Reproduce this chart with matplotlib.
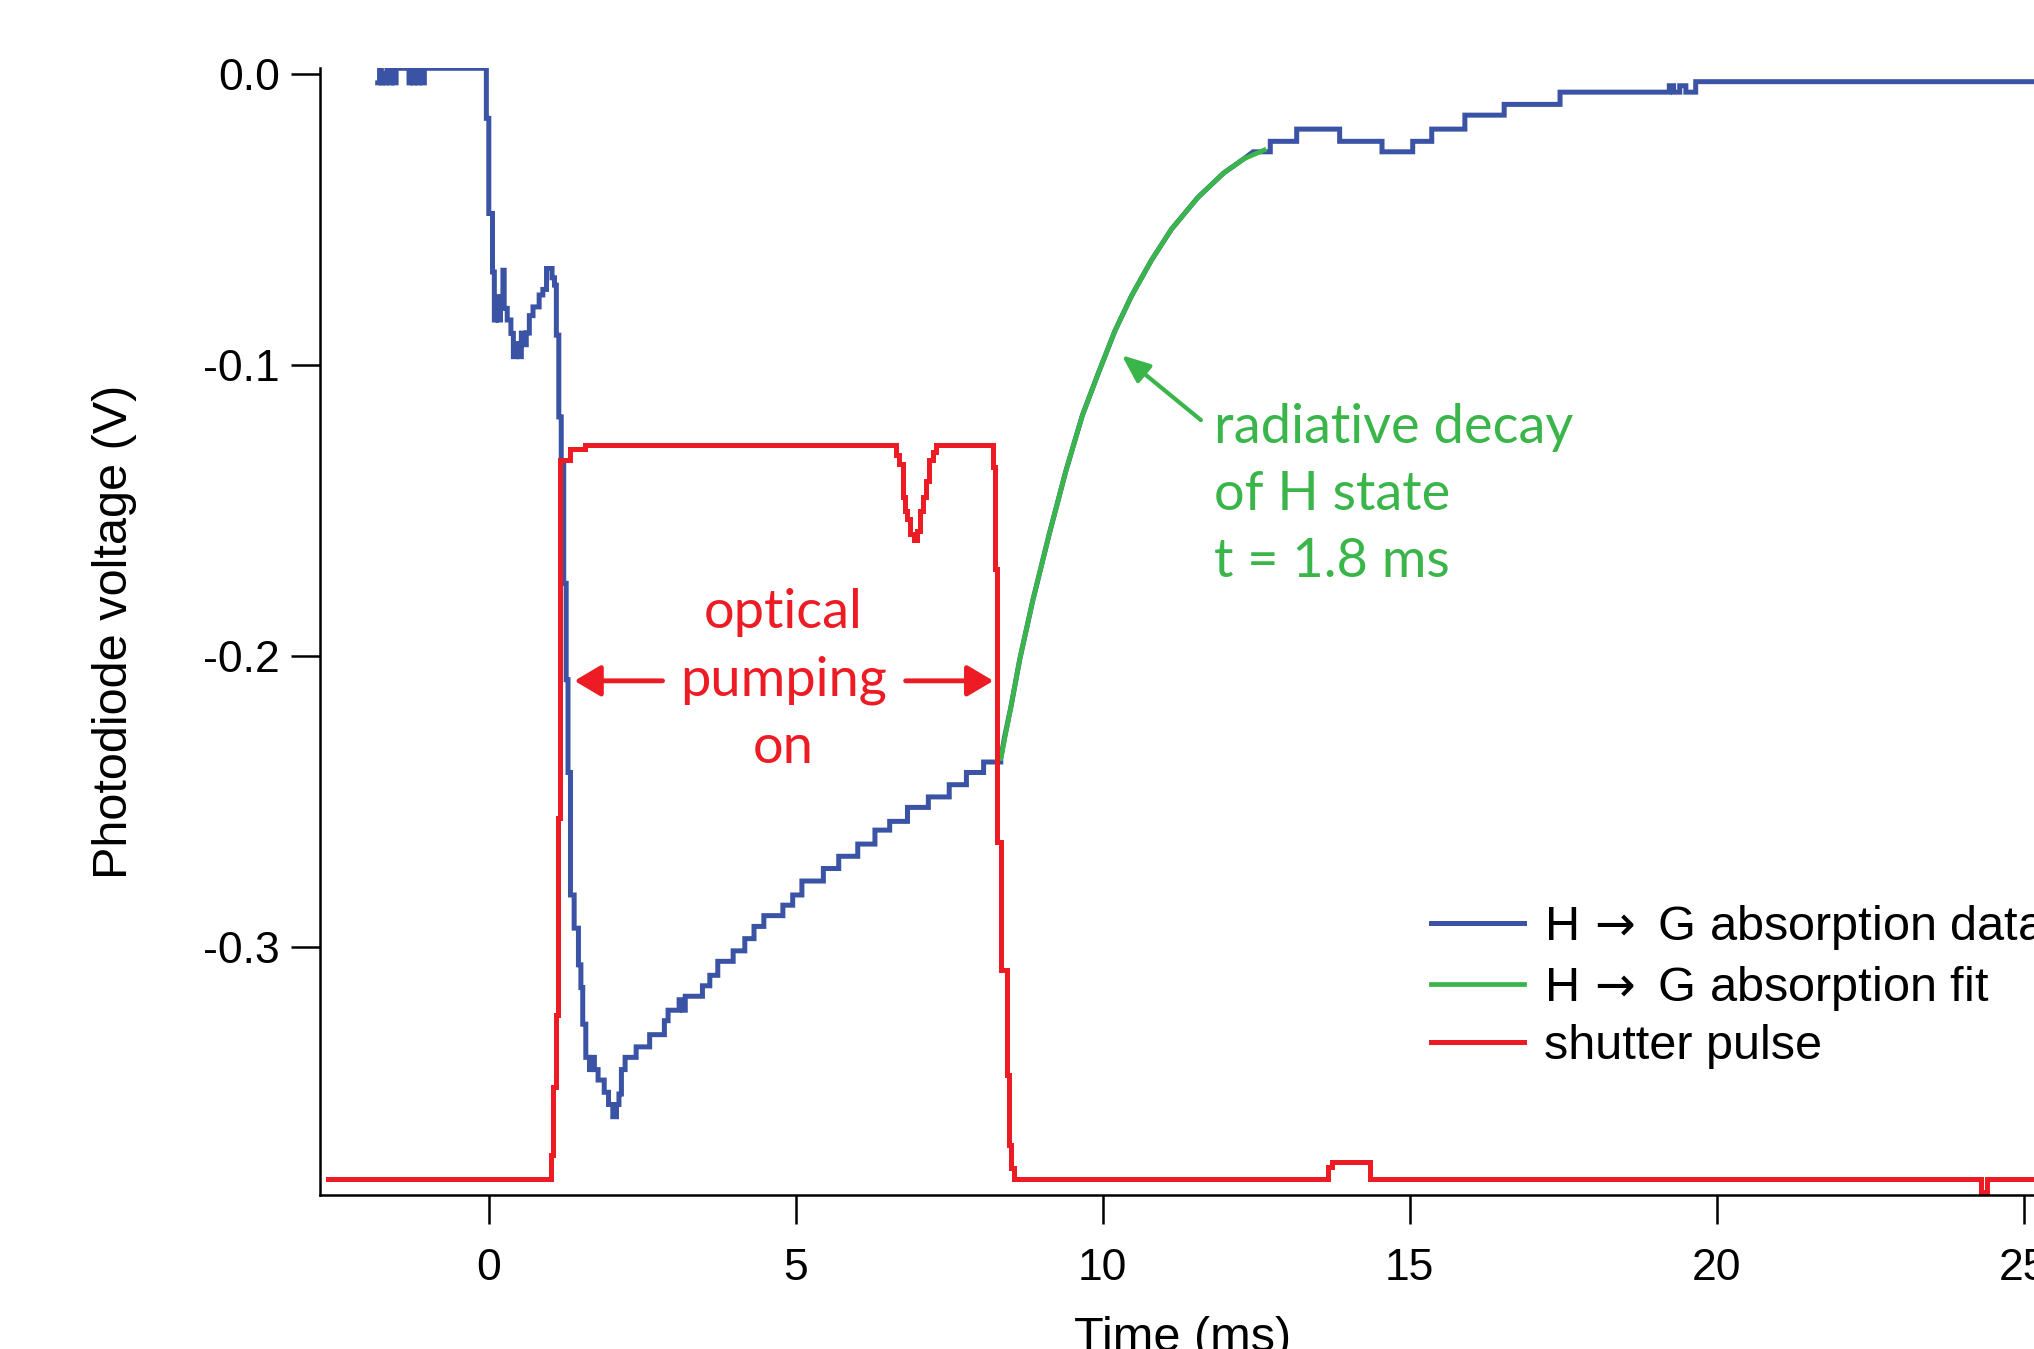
import numpy as np
import matplotlib
matplotlib.use('Agg')
import matplotlib.pyplot as plt

### DATA ###
# blue trace, step levels (steps-post), before the decay
blue_t = [-1.81, -1.78, -1.75, -1.72, -1.69, -1.66, -1.62, -1.58, -1.55, -1.51,
          -1.30, -1.27, -1.24, -1.20, -1.17, -1.13, -1.09, -1.05,
          -0.04, 0.00, 0.06, 0.09, 0.12, 0.15, 0.19, 0.23, 0.25, 0.30, 0.36,
          0.40, 0.45, 0.49, 0.53, 0.57, 0.61, 0.66, 0.72, 0.82, 0.88, 0.94,
          1.03, 1.07, 1.10, 1.14, 1.18, 1.22, 1.26, 1.29, 1.33, 1.39, 1.46,
          1.50, 1.53, 1.58, 1.64, 1.67, 1.72, 1.78, 1.88, 1.95, 2.02, 2.08,
          2.12, 2.16, 2.22, 2.40, 2.62, 2.86, 2.92, 3.10, 3.16, 3.20, 3.48,
          3.60, 3.73, 3.98, 4.17, 4.32, 4.48, 4.79, 4.95, 5.10, 5.45, 5.70,
          6.01, 6.29, 6.53, 6.82, 7.16, 7.50, 7.78, 8.06, 8.34]
blue_v = [-0.003, 0.002, -0.003, 0.000, -0.003, 0.002, -0.003, 0.002, -0.003, 0.002,
          -0.003, 0.002, -0.003, 0.002, -0.003, 0.002, -0.003, 0.002,
          -0.0152, -0.0479, -0.068, -0.0845, -0.0765, -0.0845, -0.0765, -0.0674,
          -0.0805, -0.0845, -0.0891, -0.0971, -0.0926, -0.0971, -0.089, -0.093,
          -0.089, -0.083, -0.080, -0.0759, -0.074, -0.0668, -0.070, -0.0725,
          -0.0897, -0.1178, -0.1338, -0.175, -0.2081, -0.240, -0.2821, -0.2935,
          -0.3061, -0.3139, -0.3265, -0.3379, -0.3421, -0.3379, -0.3421, -0.3457,
          -0.3499, -0.3541, -0.3583, -0.3541, -0.3505, -0.3421, -0.3379, -0.3343,
          -0.3301, -0.3253, -0.3217, -0.3181, -0.3217, -0.3169, -0.3133, -0.3097,
          -0.3049, -0.3013, -0.2971, -0.2929, -0.2892, -0.2856, -0.2821, -0.2773,
          -0.2730, -0.2688, -0.2646, -0.2598, -0.2568, -0.2520, -0.2484, -0.2442,
          -0.2400, -0.2364, -0.2352]
# blue trace during the radiative decay (follows the fit)
rise_t = [8.40, 8.50, 8.65, 8.86, 9.13, 9.40, 9.67, 9.93, 10.20, 10.47, 10.79,
          11.12, 11.55, 11.97, 12.30]
rise_v = [-0.228, -0.218, -0.201, -0.181, -0.158, -0.1364, -0.1172, -0.1027,
          -0.0882, -0.0762, -0.0641, -0.0533, -0.0424, -0.0340, -0.0291]
# blue trace tail, step levels
tail_t = [12.45, 12.73, 13.16, 13.86, 14.55, 15.05, 15.36, 15.90, 16.54, 17.45,
          19.23, 19.30, 19.40, 19.50, 19.66, 25.40]
tail_v = [-0.0267, -0.0231, -0.0189, -0.0231, -0.0267, -0.0231, -0.0189, -0.0141,
          -0.0104, -0.0062, -0.004, -0.0062, -0.004, -0.0062, -0.0026, -0.0026]

# exponential fit (tau = 1.8 ms)
fit_t = [8.34, 8.50, 8.65, 8.86, 9.13, 9.40, 9.67, 9.93, 10.20, 10.47, 10.79,
         11.12, 11.55, 11.97, 12.30, 12.63]
fit_v = [-0.2352, -0.218, -0.201, -0.181, -0.158, -0.1364, -0.1172, -0.1027,
         -0.0882, -0.0762, -0.0641, -0.0533, -0.0424, -0.0340, -0.0291, -0.0261]

# shutter pulse, step levels
red_t = [-2.62, 1.01, 1.05, 1.09, 1.13, 1.16, 1.32, 1.57, 6.63, 6.68, 6.74, 6.78,
         6.81, 6.86, 6.92, 6.98, 7.03, 7.07, 7.12, 7.17, 7.23, 7.28, 8.22, 8.25,
         8.28, 8.34, 8.44, 8.47, 8.50, 8.55, 13.67, 13.73, 14.35, 24.30, 24.40, 25.40]
red_v = [-0.3797, -0.3715, -0.348, -0.3234, -0.2556, -0.1326, -0.1290, -0.1275,
         -0.131, -0.134, -0.1452, -0.150, -0.153, -0.158, -0.160, -0.157, -0.150,
         -0.1452, -0.140, -0.1326, -0.130, -0.1275, -0.135, -0.170, -0.264, -0.308,
         -0.344, -0.368, -0.376, -0.3797, -0.3755, -0.374, -0.3797, -0.384, -0.3797,
         -0.3797]

labels = [r'H $\!\rightarrow$ G absorption data', r'H $\!\rightarrow$ G absorption fit',
          'shutter pulse']
xticks = [0, 5, 10, 15, 20, 25]
yticks = [0.0, -0.1, -0.2, -0.3]

BLUE = '#3b53a4'
GREEN = '#39b54a'
RED = '#ed1c24'


def stairs(t, v):
    # corner points of a steps-post curve
    t = np.asarray(t, float)
    v = np.asarray(v, float)
    tt = np.repeat(t, 2)[1:]
    vv = np.repeat(v, 2)[:-1]
    return tt, vv


plt.rcParams['font.family'] = ['Liberation Sans', 'DejaVu Sans']
plt.rcParams['axes.unicode_minus'] = False
plt.rcParams['mathtext.fontset'] = 'dejavusans'

W, H = 2034, 1349
fig = plt.figure(figsize=(W / 100, H / 100), dpi=100)
ax = fig.add_axes([320 / W, 154 / H, 1725 / W, 1127 / H])

# blue line built from stairs + linear decay + stairs
b1t, b1v = stairs(blue_t, blue_v)
b3t, b3v = stairs(tail_t, tail_v)
bt = np.concatenate([b1t, rise_t, b3t])
bv = np.concatenate([b1v, rise_v, b3v])

l1, = ax.plot(bt, bv, color=BLUE, lw=3.6, solid_joinstyle='miter')
l2, = ax.plot(fit_t, fit_v, color=GREEN, lw=3.4)
rt, rv = stairs(red_t, red_v)
l3, = ax.plot(rt, rv, color=RED, lw=3.6, solid_joinstyle='miter')

ax.set_xlim(-2.75, 25.35)
ax.set_ylim(-0.3852, 0.0021)
ax.set_xticks(xticks)
ax.set_yticks(yticks)
ax.set_yticklabels(['%.1f' % y for y in yticks])

for s in ['top', 'right']:
    ax.spines[s].set_visible(False)
for s in ['left', 'bottom']:
    ax.spines[s].set_linewidth(1.8)
ax.tick_params(axis='both', direction='out', length=21, width=1.8, labelsize=32)
ax.tick_params(axis='x', pad=17)
ax.tick_params(axis='y', pad=8)

ax.set_xlabel('Time (ms)', fontsize=35)
ax.set_ylabel('Photodiode voltage (V)', fontsize=35)
ax.xaxis.set_label_coords(0.5, -0.107)
ax.yaxis.set_label_coords(-0.106, 0.5)

# annotations
ann_font = ['Lato', 'DejaVu Sans']
ax.text(4.80, -0.2082, 'optical\npumping\non', color=RED, fontsize=39,
        family=ann_font, ha='center', va='center', linespacing=1.45)
ax.text(11.81, -0.1443, 'radiative decay\nof H state\nt = 1.8 ms', color=GREEN,
        fontsize=39, family=ann_font, ha='left', va='center', linespacing=1.45)

red_arrow = dict(arrowstyle='-|>,head_length=16,head_width=9.5', mutation_scale=1,
                 color=RED, lw=3.5, shrinkA=0, shrinkB=0)
ax.annotate('', xy=(1.394, -0.2085), xytext=(2.83, -0.2085), arrowprops=red_arrow)
ax.annotate('', xy=(8.22, -0.2085), xytext=(6.79, -0.2085), arrowprops=red_arrow)
ax.annotate('', xy=(10.31, -0.0966), xytext=(11.60, -0.1189),
            arrowprops=dict(arrowstyle='-|>,head_length=17,head_width=7', mutation_scale=1,
                            color=GREEN, lw=3.0, shrinkA=0, shrinkB=0))

fig.legend([l1, l2, l3], labels, loc='upper left',
           bbox_to_anchor=(1431 / W, 1 - 903 / H), frameon=False, fontsize=35,
           handlelength=1.92, handletextpad=0.41, labelspacing=0.24,
           borderpad=0, borderaxespad=0)

fig.savefig('out.png', dpi=100)
